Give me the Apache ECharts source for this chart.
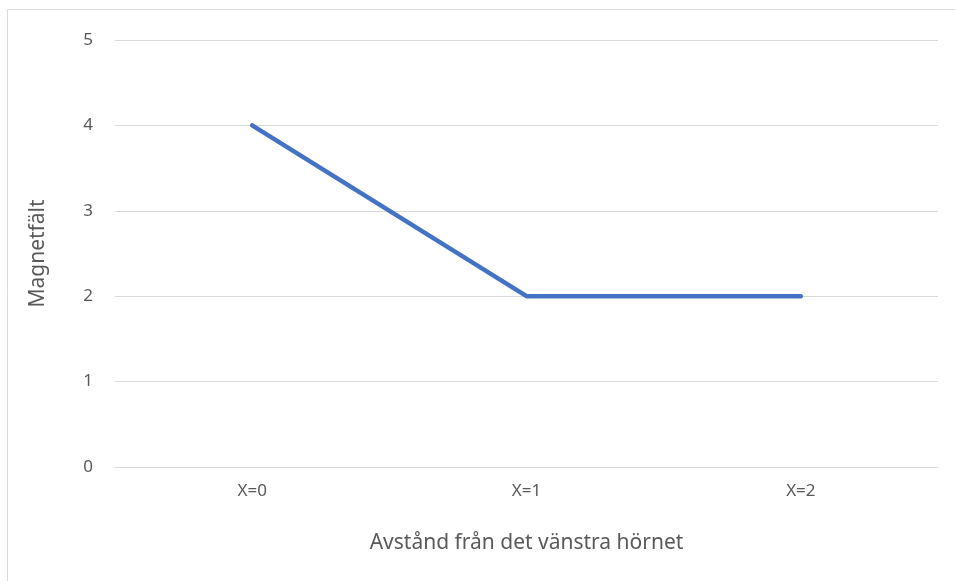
<!DOCTYPE html>
<html>
<head>
<meta charset="utf-8">
<title>Magnetfält</title>
<style>
  html, body { margin: 0; padding: 0; background: #fff; }
  #chart { width: 955px; height: 581px; }
</style>
</head>
<body>
<div id="chart"></div>
<script src="https://cdn.jsdelivr.net/npm/echarts@6/dist/echarts.min.js"></script>
<script>
var positions = ['X=0', 'X=1', 'X=2'];
var fieldValues = [4, 2, 2];
var yTicks = [0, 1, 2, 3, 4, 5];

var textColor = '#595959';
var fontName = '"Noto Sans", "Open Sans", sans-serif';

var chart = echarts.init(document.getElementById('chart'));
var option = {
  backgroundColor: '#fff',
  animation: false,
  graphic: [{
    type: 'rect',
    shape: { x: 7.5, y: 9.5, width: 1000, height: 1000 },
    style: { fill: 'none', stroke: '#d9d9d9', lineWidth: 1 },
    silent: true
  }],
  grid: { left: 115, right: 17, top: 40, bottom: 114 },
  xAxis: {
    type: 'category',
    data: positions,
    boundaryGap: true,
    name: 'Avstånd från det vänstra hörnet',
    nameLocation: 'middle',
    nameGap: 66,
    nameTextStyle: { color: textColor, fontSize: 21, fontFamily: fontName },
    axisLine: { show: true, lineStyle: { color: '#d9d9d9', width: 1 } },
    axisTick: { show: false },
    axisLabel: { color: textColor, fontSize: 17, fontFamily: fontName, margin: 16 }
  },
  yAxis: {
    type: 'value',
    min: yTicks[0],
    max: yTicks[yTicks.length - 1],
    interval: 1,
    name: 'Magnetfält',
    nameLocation: 'middle',
    nameGap: 66,
    nameTextStyle: { color: textColor, fontSize: 21, fontFamily: fontName },
    axisLine: { show: false },
    axisTick: { show: false },
    axisLabel: { color: textColor, fontSize: 17, fontFamily: fontName, margin: 22 },
    splitLine: { lineStyle: { color: '#d9d9d9', width: 1 } }
  },
  series: [{
    type: 'line',
    data: fieldValues,
    showSymbol: false,
    symbol: 'none',
    lineStyle: { color: '#4472c4', width: 4.5, cap: 'round', join: 'round' }
  }]
};
chart.setOption(option);
</script>
</body>
</html>
